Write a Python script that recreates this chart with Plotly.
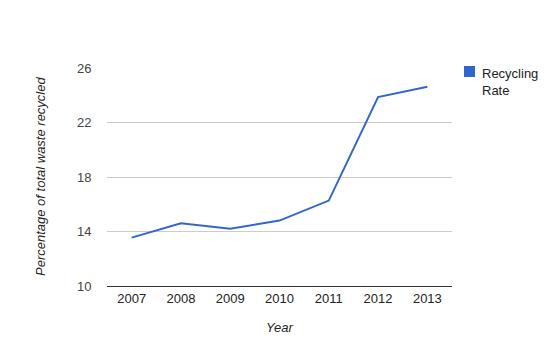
import plotly.graph_objects as go

years = ["2007", "2008", "2009", "2010", "2011", "2012", "2013"]
rate = [13.55, 14.6, 14.2, 14.8, 16.27, 23.87, 24.63]
y_ticks = [10, 14, 18, 22, 26]
series_name = "Recycling<br>Rate"
color = "#3366cc"

fig = go.Figure()
fig.add_trace(go.Scatter(x=years, y=rate, mode="lines", name="Recycling Rate",
                         line=dict(color=color, width=2), showlegend=False))

font = dict(family="Liberation Sans, Arial, sans-serif", size=13, color="#222222")
W, H = 559, 355
L, R, T, B = 107, 107, 68, 69
pw = W - L - R
ph = H - T - B

def px(x):
    return (x - L) / pw

def py(y):
    return (H - B - y) / ph

fig.update_layout(
    width=W, height=H,
    margin=dict(l=L, r=R, t=T, b=B, autoexpand=False),
    paper_bgcolor="white", plot_bgcolor="white",
    font=font,
    showlegend=False,
    xaxis=dict(type="category", range=[-0.5, 6.5], showgrid=False,
               showline=True, linecolor="#333333", linewidth=1,
               ticks="", tickfont=dict(size=13, color="#222222"),
               fixedrange=True),
    yaxis=dict(range=[10, 26], tickvals=y_ticks, showgrid=True,
               gridcolor="#cccccc", gridwidth=1, zeroline=False,
               ticks="outside", ticklen=12, tickcolor="rgba(0,0,0,0)",
               tickfont=dict(size=13, color="#444444")),
    shapes=[dict(type="rect", xref="paper", yref="paper",
                 x0=px(464), x1=px(475), y0=py(77), y1=py(66),
                 fillcolor=color, line=dict(width=0))],
    annotations=[
        dict(text="<i>Year</i>", xref="paper", yref="paper", x=0.5, y=0,
             yshift=-41, showarrow=False, yanchor="middle",
             font=dict(size=13, color="#222222")),
        dict(text="<i>Percentage of total waste recycled</i>", xref="paper",
             yref="paper", x=0, y=0.5, xshift=-67, textangle=-90,
             showarrow=False, xanchor="center",
             font=dict(size=13, color="#222222")),
        dict(text=series_name, xref="paper", yref="paper", x=px(480),
             y=py(64), xanchor="left", yanchor="top", align="left",
             showarrow=False, font=dict(size=13, color="#222222")),
    ],
)
fig.write_html("out.html")
